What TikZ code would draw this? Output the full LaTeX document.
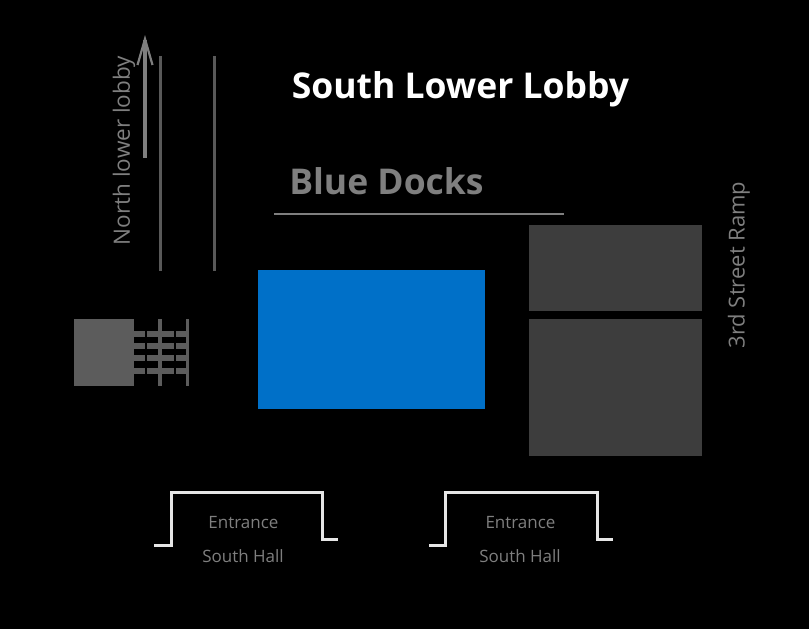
\documentclass[tikz,border=0pt]{standalone}
\usepackage{fontspec}
\setmainfont{Open Sans}
\usepackage{xcolor}
\usetikzlibrary{arrows.meta}
\definecolor{dockgray}{HTML}{7F7F7F}
\definecolor{railgray}{HTML}{595959}
\definecolor{roomgray}{HTML}{3D3D3D}
\definecolor{stairgray}{HTML}{5C5C5C}
\definecolor{boothblue}{HTML}{0070C8}
\definecolor{doorwhite}{HTML}{E6E6E6}
\tikzset{
    room/.style={fill=#1, draw=none, inner sep=0pt},
    rail/.style={draw=railgray, line width=3pt},
    stairbar/.style={draw=stairgray, line width=6pt},
    door/.style={draw=doorwhite, line width=3pt},
    label/.style={text=dockgray, inner sep=0pt},
}
\begin{document}
\begin{tikzpicture}[x=1pt, y=-1pt]
            \fill[black] (0, 0) rectangle (809, 629);
            \useasboundingbox (0, 0) rectangle (809, 629);

            \node[text=white, inner sep=0pt, font=\bfseries\fontsize{35.5}{36}\selectfont] (title) at (460.5, 89) {South Lower Lobby};
            \node[label, font=\bfseries\fontsize{35.5}{36}\selectfont] (docks) at (386.5, 181) {Blue Docks};
            \node[label, rotate=90, font=\fontsize{22.5}{23}\selectfont] (north) at (124, 150.5) {North lower lobby};
            \node[label, rotate=90, font=\fontsize{22}{23}\selectfont] (ramp) at (739, 265) {3rd Street Ramp};

            % docks line and the two long rails
            \coordinate (docksa) at (274, 214);
            \coordinate (docksb) at (564, 214);
            \draw[draw=dockgray, line width=2.8pt] (docksa) -- (docksb);
            \coordinate (raila) at (160, 56);
            \coordinate (railb) at (160, 271);
            \coordinate (railc) at (214, 56);
            \coordinate (raild) at (214, 271);
            \draw[rail] (raila) -- (railb);
            \draw[rail] (railc) -- (raild);

            % arrow to north lobby
            \coordinate (arrowa) at (145, 158);
            \coordinate (arrowb) at (145, 35);
            \draw[draw=dockgray, line width=3.4pt, -{Straight Barb[length=26pt, width=15pt, line width=2.2pt]}] (arrowa) -- (arrowb);

            % rooms
            \node[room=boothblue, minimum width=227pt, minimum height=139pt] (booth) at (371.5, 339.5) {};
            \node[room=roomgray, minimum width=173pt, minimum height=86pt] (roomup) at (615.5, 268) {};
            \node[room=roomgray, minimum width=173pt, minimum height=137pt] (roomlow) at (615.5, 387.5) {};
            \node[room=stairgray, minimum width=60pt, minimum height=67pt] (stair) at (104, 352.5) {};

            % stairs
            \foreach \y in {334, 346, 358, 371} {
                \draw[stairbar] (134, \y) -- (145, \y);
                \draw[stairbar] (147, \y) -- (174, \y);
                \draw[stairbar] (176, \y) -- (188, \y);
            }
            \draw[draw=stairgray, line width=4.4pt] (160, 319) -- (160, 386);
            \draw[draw=stairgray, line width=2.6pt] (187.5, 319) -- (187.5, 386);

            % entrances
            \draw[door] (154, 545) -- (171, 545) -- (171, 492.5) -- (322, 492.5) -- (322, 539) -- (338, 539);
            \draw[door] (429, 545) -- (445, 545) -- (445, 492.5) -- (597, 492.5) -- (597, 539) -- (613, 539);

            \node[label, font=\fontsize{17}{17}\selectfont] (enta) at (243.5, 523) {Entrance};
            \node[label, font=\fontsize{17}{17}\selectfont] (halla) at (243, 556) {South Hall};
            \node[label, font=\fontsize{17}{17}\selectfont] (entb) at (520.5, 523) {Entrance};
            \node[label, font=\fontsize{17}{17}\selectfont] (hallb) at (520, 556) {South Hall};
        \end{tikzpicture}
\end{document}
